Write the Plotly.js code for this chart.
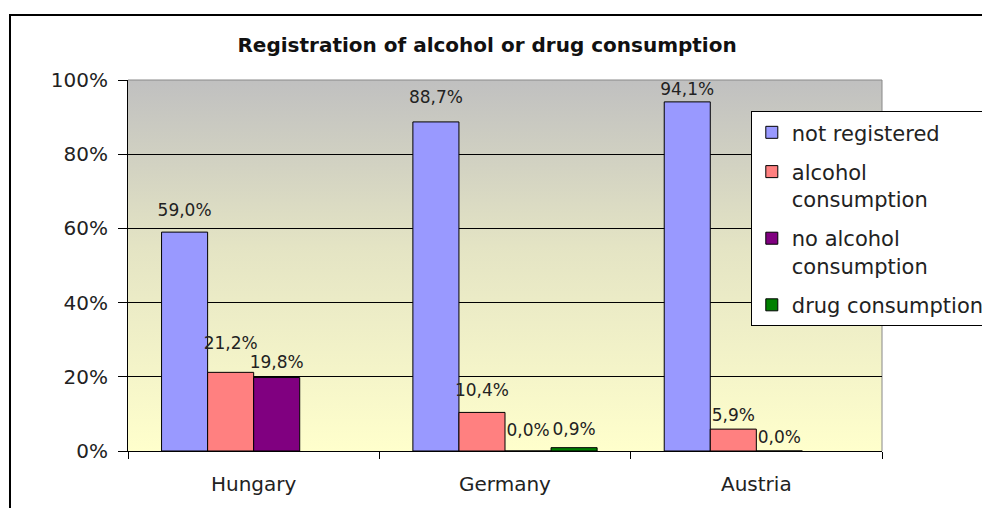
<!DOCTYPE html>
<html><head><meta charset="utf-8">
<script src="https://cdn.plot.ly/plotly-3.0.1.min.js"></script>
<style>html,body{margin:0;padding:0;background:#fff}#chart{width:982px;height:508px}</style>
</head><body><div id="chart"></div>
<script>
var categories = ["Hungary", "Germany", "Austria"];
var seriesNames = ["not registered", "alcohol<br>consumption", "no alcohol<br>consumption", "drug consumption"];
var notRegistered = [59.0, 88.7, 94.1];
var alcohol = [21.2, 10.4, 5.9];
var noAlcohol = [19.8, 0.0, 0.0];
var drug = [null, 0.9, null];
var yTicks = [0, 20, 40, 60, 80, 100];
var yTickLabels = ["0%", "20%", "40%", "60%", "80%", "100%"];

// styling (not data): colours and label lift above each bar, in px
var colors = ["#9999FF", "#FF8080", "#800080", "#008000"];
var labelLift = [[22, 25, 13], [29, 22, 14], [15, 21, 14], [18, 18, 18]];

var FONT = "DejaVu Sans, Arial, sans-serif";
var LABEL_SIZE = 17;
function lab(v){ return v === null ? "" : v.toFixed(1).replace(".", ",") + "%"; }
var all = [notRegistered, alcohol, noAlcohol, drug];
var traces = [];
all.forEach(function(vals, i){
  traces.push({
    type: "bar", x: categories, y: vals, name: seriesNames[i],
    legendgroup: "s" + i, offsetgroup: "g" + i, alignmentgroup: "a",
    marker: {color: colors[i], line: {color: "#000", width: 1}},
    hoverinfo: "none"
  });
});
all.forEach(function(vals, i){
  // text labels: point sits on top of the bar; an invisible marker sets the lift of the label
  var sizes = labelLift[i].map(function(c){ return Math.max(0.5, 1.6 * (c - 11)); });
  traces.push({
    type: "scatter", mode: "markers+text", x: categories, y: vals,
    legendgroup: "s" + i, offsetgroup: "g" + i, alignmentgroup: "a", showlegend: false,
    marker: {size: sizes, opacity: 0, color: colors[i]},
    text: vals.map(lab), textposition: "top center", cliponaxis: false,
    textfont: {family: FONT, size: LABEL_SIZE, color: "#222"},
    hoverinfo: "none"
  });
});

var svg = "<svg xmlns='http://www.w3.org/2000/svg' width='10' height='100' preserveAspectRatio='none'><defs><linearGradient id='g' x1='0' y1='0' x2='0' y2='1'><stop offset='0' stop-color='#c0c0c0'/><stop offset='0.45' stop-color='#e4e4c4'/><stop offset='1' stop-color='#ffffcc'/></linearGradient></defs><rect width='10' height='100' fill='url(#g)'/></svg>";
var img = "data:image/svg+xml;charset=utf-8," + encodeURIComponent(svg);

var layout = {
  width: 982, height: 508,
  margin: {l: 128, r: 100, t: 80, b: 57, autoexpand: false},
  paper_bgcolor: "#fff", plot_bgcolor: "rgba(0,0,0,0)",
  barmode: "group", bargap: 0.267, bargroupgap: 0,
  scattermode: "group", scattergap: 0.267,
  showlegend: true,
  title: {text: "<b>Registration of alcohol or drug consumption</b>", x: 0.496, xref: "container", y: 0.911, yref: "container", yanchor: "middle", xanchor: "center",
          font: {family: FONT, size: 20, color: "#111"}},
  xaxis: {type: "category", showline: true, linecolor: "#000", linewidth: 1, ticks: "outside", tickson: "boundaries", ticklen: 7, tickcolor: "#000",
          tickfont: {family: FONT, size: 20, color: "#222"}, ticklabelstandoff: 15, showgrid: false, zeroline: false, fixedrange: true},
  yaxis: {range: [0, 100], tickmode: "array", tickvals: yTicks, ticktext: yTickLabels, showline: true, linecolor: "#000", linewidth: 1, ticks: "outside", ticklen: 9, tickcolor: "#000",
          tickfont: {family: FONT, size: 20, color: "#222"}, ticklabelstandoff: 6, showgrid: true, gridcolor: "#000", gridwidth: 1, zeroline: false, fixedrange: true},
  legend: {x: 0.826, y: 0.916, xanchor: "left", yanchor: "top", bgcolor: "#fff", bordercolor: "#000", borderwidth: 1,
           font: {family: FONT, size: 21, color: "#222"}, valign: "top", traceorder: "grouped", tracegroupgap: 9},
  images: [{source: img, xref: "paper", yref: "paper", x: 0, y: 1, sizex: 1, sizey: 1, sizing: "stretch", xanchor: "left", yanchor: "top", layer: "below"}],
  shapes: [
    {type: "line", xref: "paper", yref: "paper", x0: 0, x1: 1, y0: 1, y1: 1, line: {color: "#888", width: 1}, layer: "between"},
    {type: "line", xref: "paper", yref: "paper", x0: 1, x1: 1, y0: 0, y1: 1, line: {color: "#888", width: 1}, layer: "between"},
    {type: "rect", xref: "paper", yref: "paper", x0: -0.1565, x1: 1.25, y0: -0.25, y1: 1.175, line: {color: "#000", width: 2}, fillcolor: "rgba(0,0,0,0)", layer: "above"}
  ]
};
Plotly.newPlot("chart", traces, layout, {displayModeBar: false, staticPlot: true});
</script></body></html>
